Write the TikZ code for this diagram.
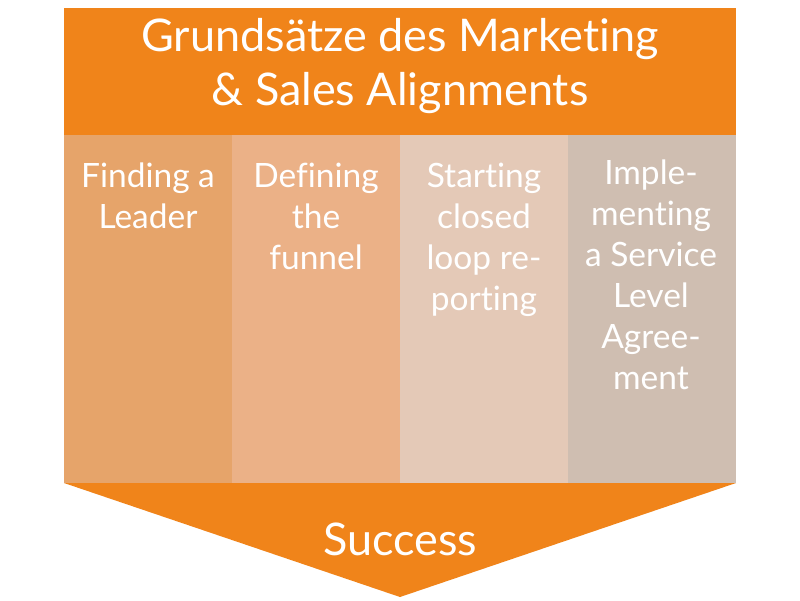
\documentclass[tikz,border=0pt]{standalone}
\usepackage{fontspec}
\setmainfont{Lato}[Ligatures=NoCommon]
\definecolor{hdr}{HTML}{F0841A}
\definecolor{cA}{HTML}{E6A46A}
\definecolor{cB}{HTML}{EBB187}
\definecolor{cC}{HTML}{E4C9B7}
\definecolor{cD}{HTML}{CFBEB1}
\begin{document}
\begin{tikzpicture}[x=1pt,y=-1pt,
  box/.style={rectangle,inner sep=0pt,outer sep=0pt,draw=none},
  col/.style={box,minimum width=168pt,minimum height=348pt},
  coltext/.style={inner sep=0pt,anchor=base,align=center,text=white,
    font=\fontsize{33.5}{41}\selectfont},
  titletext/.style={inner sep=0pt,anchor=base,align=center,text=white,
    font=\fontsize{45}{54}\selectfont}]
\useasboundingbox[fill=white] (0,0) rectangle (800,600);
\node[box,fill=hdr,minimum width=672pt,minimum height=127pt] (hdr) at (400,71.5) {};
% base anchor = baseline of the last line
\node[titletext] (title) at (400,105) {Grundsätze des Marketing\\\& Sales Alignments};
\node[col,fill=cA] (c1) at (148,309) {};
\node[col,fill=cB] (c2) at (316,309) {};
\node[col,fill=cC] (c3) at (484,309) {};
\node[col,fill=cD] (c4) at (652,309) {};
\node[coltext] (t1) at (148,228) {Finding a\\Leader};
\node[coltext] (t2) at (316,269) {Defining\\the\\funnel};
\node[coltext] (t3) at (484,310) {Starting\\closed\\loop re-\\porting};
\node[coltext] (t4) at (651,389) {Imple-\\menting\\a Service\\Level\\Agree-\\ment};
\coordinate (al) at (64,483);
\coordinate (ar) at (736,483);
\coordinate (tip) at (400,597);
\fill[hdr] (al) -- (ar) -- (tip) -- cycle;
\node[titletext] (succ) at (400,555) {Success};
\end{tikzpicture}
\end{document}
